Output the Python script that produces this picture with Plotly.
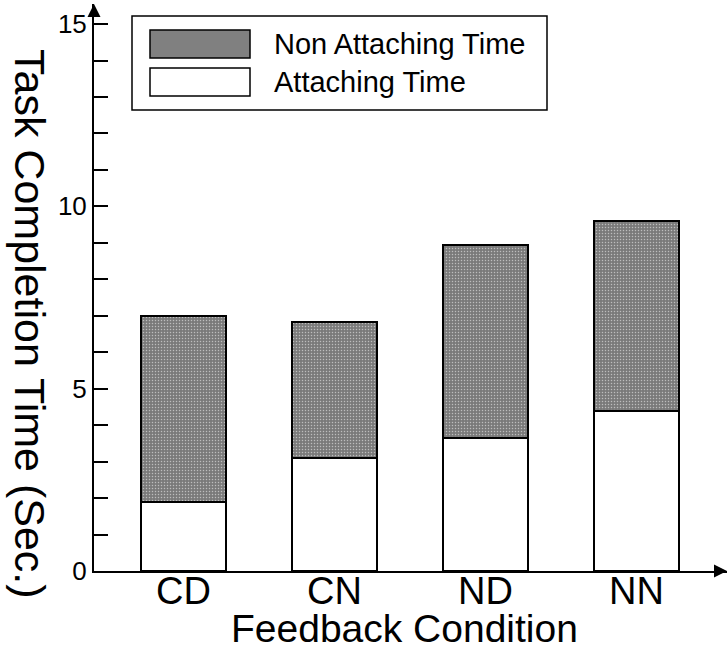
import plotly.graph_objects as go

categories = ["CD", "CN", "ND", "NN"]
attaching_time = [1.9, 3.1, 3.65, 4.4]
non_attaching_time = [5.1, 3.72, 5.28, 5.19]
y_tick_values = [0, 5, 10, 15]
legend_labels = ["Non Attaching Time", "Attaching Time"]

FONT = "Liberation Sans, Arial, Helvetica, sans-serif"
W, H = 728, 650
L, R, T, B = 94, 1, 4, 79
XR = [-0.593, 3.6]
YR = [0, 15.55]
GRAY = "#7a7a7a"


def px(x):
    return (x - L) / (W - L - R)


def py(y):
    return (H - B - y) / (H - T - B)


xpos = list(range(len(categories)))

fig = go.Figure()
fig.add_trace(go.Bar(
    x=xpos, y=attaching_time, name=legend_labels[1], width=0.563,
    marker=dict(color="white", line=dict(color="black", width=2)),
    showlegend=False, hoverinfo="skip",
))
fig.add_trace(go.Bar(
    x=xpos, y=non_attaching_time, name=legend_labels[0], width=0.563,
    marker=dict(color=GRAY, line=dict(color="black", width=2),
                pattern=dict(shape=".", bgcolor=GRAY, fgcolor="white",
                             size=3, solidity=0.2)),
    showlegend=False, hoverinfo="skip",
))

shapes = []
annotations = []
# legend box
shapes.append(dict(type="rect", xref="paper", yref="paper",
                   x0=px(132), x1=px(547), y0=py(110), y1=py(16),
                   line=dict(color="black", width=1.5), fillcolor="white"))
shapes.append(dict(type="rect", xref="paper", yref="paper",
                   x0=px(150), x1=px(250), y0=py(58), y1=py(30),
                   line=dict(color="black", width=1.5), fillcolor="#808080"))
shapes.append(dict(type="rect", xref="paper", yref="paper",
                   x0=px(150), x1=px(250), y0=py(96), y1=py(68),
                   line=dict(color="black", width=1.5), fillcolor="white"))
for lbl, yc in zip(legend_labels, [44, 82]):
    annotations.append(dict(text=lbl, xref="paper", yref="paper",
                            x=px(272), y=py(yc), xanchor="left", yanchor="middle",
                            showarrow=False, font=dict(family=FONT, size=29, color="black")))

# category labels under the bars
for i, cat in zip(xpos, categories):
    annotations.append(dict(text=cat, xref="x", yref="paper", x=i, y=py(591),
                            xanchor="center", yanchor="middle", showarrow=False,
                            font=dict(family=FONT, size=38, color="black")))

# axis arrowheads
annotations.append(dict(x=XR[0], y=YR[1], xref="x", yref="y", ax=0, ay=14,
                        text="", showarrow=True,
                        arrowhead=2, arrowsize=1.3, arrowwidth=2, arrowcolor="black",
                        standoff=0, startstandoff=0))
annotations.append(dict(x=XR[1], y=0, xref="x", yref="y", ax=-14, ay=0,
                        text="", showarrow=True,
                        arrowhead=2, arrowsize=1.3, arrowwidth=2, arrowcolor="black",
                        standoff=0, startstandoff=0))
# y title (reads top to bottom)
annotations.append(dict(text="Task Completion Time (Sec.)", xref="paper", yref="paper",
                        x=px(30), y=py(324), xanchor="center", yanchor="middle",
                        textangle=90, showarrow=False,
                        font=dict(family=FONT, size=43, color="black")))
# x title
annotations.append(dict(text="Feedback Condition", xref="paper", yref="paper",
                        x=px(404), y=py(629), xanchor="center", yanchor="middle",
                        showarrow=False,
                        font=dict(family=FONT, size=39, color="black")))

fig.update_layout(
    width=W, height=H,
    margin=dict(l=L, r=R, t=T, b=B, pad=0),
    barmode="stack",
    bargap=0,
    plot_bgcolor="white", paper_bgcolor="white",
    shapes=shapes, annotations=annotations,
    showlegend=False,
    hovermode=False,
    xaxis=dict(range=XR, tickmode="array", tickvals=xpos, ticktext=categories,
               automargin=False, showticklabels=False,
               showgrid=False, zeroline=False, showline=True, linecolor="black",
               linewidth=2, ticks=""),
    yaxis=dict(range=YR, tickmode="array", tickvals=y_tick_values,
               automargin=False,
               showgrid=False, zeroline=False, showline=True, linecolor="black",
               linewidth=2,
               ticks="inside", ticklen=14, tickwidth=2, tickcolor="black",
               tickfont=dict(family=FONT, size=26, color="black"),
               minor=dict(dtick=1, tick0=0, ticks="inside", ticklen=14,
                          tickwidth=2, tickcolor="black", showgrid=False)),
)

fig.write_html("out.html", config={"displayModeBar": False},
               post_script="document.body.style.margin='0';document.body.style.padding='0';")
